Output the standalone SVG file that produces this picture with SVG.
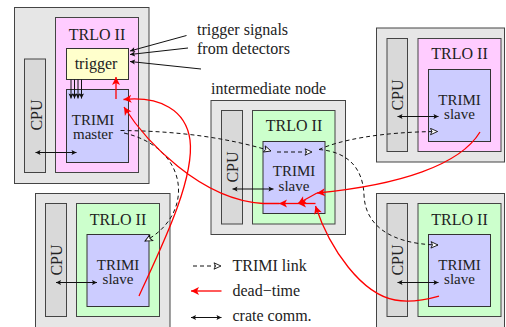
<svg xmlns="http://www.w3.org/2000/svg" width="506" height="327" viewBox="0 0 506 327" font-family="'Liberation Serif', 'DejaVu Serif', 'Times New Roman', serif">
  <style>
    text { font-family: 'Liberation Serif', 'DejaVu Serif', 'Times New Roman', serif; font-size: 16px; fill: #222; }
    .mid { text-anchor: middle; }
    .unit { font-size: 15px; }
    .crate { fill: #e6e6e6; stroke: #444; stroke-width: 1; }
    .cpu { fill: #d9d9d9; stroke: #444; stroke-width: 1; }
    .pink { fill: #ffccff; stroke: #444; stroke-width: 1; }
    .green { fill: #ccffcc; stroke: #444; stroke-width: 1; }
    .trimi { fill: #ccccff; stroke: #333; stroke-width: 1; }
    .trig { fill: #ffffcc; stroke: #333; stroke-width: 1; }
    .link { fill: none; stroke: #111; stroke-width: 1; stroke-dasharray: 4 3; marker-end: url(#open); }
    .dead { fill: none; stroke: #ff0000; stroke-width: 1.3; marker-end: url(#red); }
    .comm { fill: none; stroke: #111; stroke-width: 1; marker-start: url(#blkS); marker-end: url(#blk); }
    .sig { fill: none; stroke: #111; stroke-width: 1; marker-end: url(#blk); }
  </style>
  <defs>
    <marker id="open" viewBox="-8 -4 9 8" refX="0" refY="0" markerWidth="9" markerHeight="8" markerUnits="userSpaceOnUse" orient="auto">
      <path d="M0,0 L-7,-3.2 L-5.5,0 L-7,3.2 z" fill="#fff" stroke="#111" stroke-width="0.9" stroke-dasharray="none"/>
    </marker>
    <marker id="red" viewBox="-9 -5 10 10" refX="0" refY="0" markerWidth="10" markerHeight="10" markerUnits="userSpaceOnUse" orient="auto">
      <path d="M0,0 L-8,-4 L-6,0 L-8,4 z" fill="#ff0000"/>
    </marker>
    <marker id="blk" viewBox="-6 -3 7 6" refX="0" refY="0" markerWidth="7" markerHeight="6" markerUnits="userSpaceOnUse" orient="auto">
      <path d="M0,0 L-5,-2.5 L-4,0 L-5,2.5 z" fill="#111"/>
    </marker>
    <marker id="blkS" viewBox="-1 -3 7 6" refX="0" refY="0" markerWidth="7" markerHeight="6" markerUnits="userSpaceOnUse" orient="auto">
      <path d="M0,0 L5,-2.5 L4,0 L5,2.5 z" fill="#111"/>
    </marker>
  </defs>

  <!-- master crate with trigger logic -->
  <g id="master">
    <rect class="crate" x="14.5" y="7.5" width="134.5" height="176"/>
    <rect class="cpu" x="24.5" y="59" width="21" height="113.5"/>
    <text class="mid" transform="translate(41.5,115) rotate(-90)">CPU</text>
    <rect class="pink" x="55.5" y="17.5" width="83" height="155"/>
    <text class="mid" x="97" y="40">TRLO II</text>
    <rect class="trig" x="66.5" y="48.5" width="62" height="31"/>
    <text class="mid" x="96" y="69">trigger</text>
    <rect class="trimi" x="66.5" y="89.5" width="62" height="73"/>
    <text class="mid unit" x="93" y="124.5">TRIMI</text>
    <text class="mid unit" x="93" y="139.2">master</text>
  </g>

  <!-- intermediate crate -->
  <g id="intermediate">
    <text x="211" y="93.5">intermediate node</text>
    <rect class="crate" x="211" y="100.5" width="134.5" height="134"/>
    <rect class="cpu" x="221.5" y="110.5" width="21" height="113.5"/>
    <text class="mid" transform="translate(238,167) rotate(-90)">CPU</text>
    <rect class="green" x="252.5" y="110.5" width="82.5" height="113.5"/>
    <text class="mid" x="294" y="131">TRLO II</text>
    <rect class="trimi" x="263" y="141.5" width="62" height="72"/>
    <text class="mid unit" x="294" y="176">TRIMI</text>
    <text class="mid unit" x="294" y="190.7">slave</text>
  </g>

  <!-- slave crate, top right -->
  <g id="slave-top-right">
    <rect class="crate" x="376.5" y="28" width="128" height="134"/>
    <rect class="cpu" x="387" y="38.5" width="20.5" height="113"/>
    <text class="mid" transform="translate(403,95) rotate(-90)">CPU</text>
    <rect class="pink" x="418" y="38.5" width="83" height="113"/>
    <text class="mid" x="459.5" y="59">TRLO II</text>
    <rect class="trimi" x="428.5" y="69.5" width="62" height="72"/>
    <text class="mid unit" x="459.5" y="104.5">TRIMI</text>
    <text class="mid unit" x="459.5" y="119.2">slave</text>
  </g>

  <!-- slave crate, bottom left -->
  <g id="slave-bottom-left">
    <rect class="crate" x="35.5" y="193.5" width="134.5" height="140"/>
    <rect class="cpu" x="45.5" y="203.5" width="21" height="113"/>
    <text class="mid" transform="translate(62,260) rotate(-90)">CPU</text>
    <rect class="green" x="76.5" y="203.5" width="83" height="113"/>
    <text class="mid" x="118" y="225">TRLO II</text>
    <rect class="trimi" x="87" y="234.5" width="62" height="72"/>
    <text class="mid unit" x="118" y="269.5">TRIMI</text>
    <text class="mid unit" x="118" y="284.2">slave</text>
  </g>

  <!-- slave crate, bottom right -->
  <g id="slave-bottom-right">
    <rect class="crate" x="376.5" y="193.5" width="128" height="140"/>
    <rect class="cpu" x="387" y="203.5" width="20.5" height="113"/>
    <text class="mid" transform="translate(403,260) rotate(-90)">CPU</text>
    <rect class="green" x="418" y="203.5" width="83" height="113"/>
    <text class="mid" x="459.5" y="225">TRLO II</text>
    <rect class="trimi" x="428.5" y="234.5" width="62" height="72"/>
    <text class="mid unit" x="459.5" y="269.5">TRIMI</text>
    <text class="mid unit" x="459.5" y="284.2">slave</text>
  </g>

  <!-- trigger inputs label -->
  <g id="trigger-signals">
    <text x="197" y="35">trigger signals</text>
    <text x="197" y="54">from detectors</text>
  </g>

  <g id="connectors">
    <!-- detector inputs into the trigger box -->
    <path class="sig" d="M186.5,35.5 L130,51"/>
    <path class="sig" d="M188,48 L130,54.5"/>
    <path class="sig" d="M201,69 L130,61.5"/>
    <!-- trigger to TRIMI master -->
    <path class="sig" d="M71,79.5 V98.5"/>
    <path class="sig" d="M74.5,79.5 V98.5"/>
    <path class="sig" d="M78,79.5 V98.5"/>
    <path class="sig" d="M81.5,79.5 V98.5"/>

    <!-- crate communication -->
    <path class="comm" d="M35.5,152.5 H76.5"/>
    <path class="comm" d="M232.5,189 H273.5"/>
    <path class="comm" d="M397.5,116.5 H438.5"/>
    <path class="comm" d="M56,282.5 H97"/>
    <path class="comm" d="M397.5,282.5 H438.5"/>

    <!-- TRIMI links -->
    <path class="link" d="M120.5,130.5 C180,131 228,138 271,151"/>
    <path class="link" d="M124,133 C190,148 195,215 145,241"/>
    <path class="link" d="M277,152 H312"/>
    <path class="link" d="M319,149.5 C340,140 380,132 437.5,131.5"/>
    <path class="link" d="M319,149.5 C350,152 363,170 364,195 C365,225 390,244 438,245"/>

    <!-- dead-time -->
    <path class="dead" d="M116,99 V77"/>
    <path class="dead" d="M139,296 C160,250 195,180 190,140 C186,110 160,96 123.5,99.5"/>
    <path class="dead" d="M480,132 C460,165 400,185 317,193"/>
    <path class="dead" d="M317,193 L298,203.5"/>
    <path class="dead" d="M439,296 C425,300 410,303 395,300 C362,294 330,250 315.5,206"/>
    <path class="dead" d="M315.5,203.5 H298"/>
    <path class="dead" d="M298,203.5 H279"/>
    <path class="dead" d="M279,203.5 H263 C200,200 145,140 124,107"/>
  </g>

  <!-- legend -->
  <g id="legend">
    <path class="link" d="M193,266 H221"/>
    <text x="232.5" y="271">TRIMI link</text>
    <path class="dead" d="M221.5,291 H191"/>
    <text x="232.5" y="296">dead−time</text>
    <path class="comm" d="M191,317.5 H221.5"/>
    <text x="232.5" y="321">crate comm.</text>
  </g>
</svg>
